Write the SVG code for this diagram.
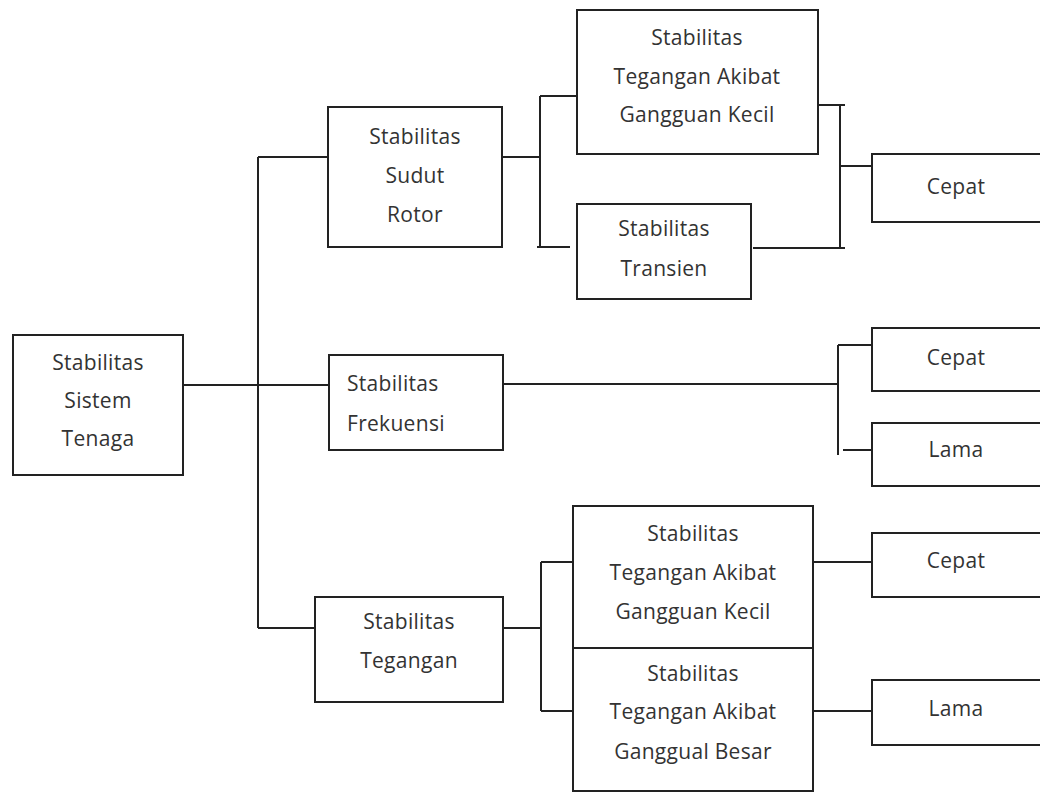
<svg xmlns="http://www.w3.org/2000/svg" width="1040" height="792" viewBox="0 0 1040 792">
<style>
rect{fill:#fff;stroke:#222;stroke-width:2}
.c line{stroke:#222;stroke-width:2}
text{font-family:"Open Sans","Noto Sans",sans-serif;font-size:21px;fill:#333;text-anchor:middle;letter-spacing:0.3px}
.l{text-anchor:start}
</style>
<rect x="0" y="0" width="1040" height="792" style="stroke:none"/>
<g class="c" id="connectors">
<line x1="183" y1="385" x2="330" y2="385"/>
<line x1="258" y1="157" x2="258" y2="628"/>
<line x1="258" y1="157" x2="328" y2="157"/>
<line x1="258" y1="628" x2="315" y2="628"/>
<line x1="502" y1="157" x2="540" y2="157"/>
<line x1="540" y1="96" x2="540" y2="248"/>
<line x1="540" y1="96" x2="577" y2="96"/>
<line x1="537" y1="247" x2="570" y2="247"/>
<line x1="818" y1="105" x2="845" y2="105"/>
<line x1="840" y1="105" x2="840" y2="248"/>
<line x1="753" y1="248" x2="845" y2="248"/>
<line x1="840" y1="166" x2="872" y2="166"/>
<line x1="503" y1="384" x2="838" y2="384"/>
<line x1="838" y1="345" x2="838" y2="455"/>
<line x1="838" y1="345" x2="872" y2="345"/>
<line x1="843" y1="450" x2="872" y2="450"/>
<line x1="503" y1="628" x2="541" y2="628"/>
<line x1="541" y1="562" x2="541" y2="711"/>
<line x1="541" y1="562" x2="573" y2="562"/>
<line x1="541" y1="711" x2="573" y2="711"/>
<line x1="813" y1="562" x2="872" y2="562"/>
<line x1="813" y1="711" x2="872" y2="711"/>
</g>
<g id="sistem"><rect x="13" y="335" width="170" height="140"/>
<text x="98" y="370">Stabilitas</text><text x="98" y="408">Sistem</text><text x="98" y="446">Tenaga</text></g>
<g id="sudut"><rect x="328" y="107" width="174" height="140"/>
<text x="415" y="144">Stabilitas</text><text x="415" y="183">Sudut</text><text x="415" y="222">Rotor</text></g>
<g id="kecil1"><rect x="577" y="10" width="241" height="144"/>
<text x="697" y="45">Stabilitas</text><text x="697" y="84">Tegangan Akibat</text><text x="697" y="122">Gangguan Kecil</text></g>
<g id="transien"><rect x="577" y="204" width="174" height="95"/>
<text x="664" y="236">Stabilitas</text><text x="664" y="276">Transien</text></g>
<g id="cepat1"><rect x="872" y="154" width="173" height="68"/>
<text x="956" y="194">Cepat</text></g>
<g id="frekuensi"><rect x="329" y="355" width="174" height="95"/>
<text class="l" x="347" y="391">Stabilitas</text><text class="l" x="347" y="431">Frekuensi</text></g>
<g id="cepat2"><rect x="872" y="328" width="173" height="63"/>
<text x="956" y="365">Cepat</text></g>
<g id="lama1"><rect x="872" y="423" width="173" height="63"/>
<text x="956" y="457">Lama</text></g>
<g id="tegangan"><rect x="315" y="597" width="188" height="105"/>
<text x="409" y="629">Stabilitas</text><text x="409" y="668">Tegangan</text></g>
<g id="kecil2"><rect x="573" y="506" width="240" height="142"/>
<text x="693" y="541">Stabilitas</text><text x="693" y="580">Tegangan Akibat</text><text x="693" y="619">Gangguan Kecil</text></g>
<g id="besar"><rect x="573" y="648" width="240" height="143"/>
<text x="693" y="681">Stabilitas</text><text x="693" y="719">Tegangan Akibat</text><text x="693" y="759">Ganggual Besar</text></g>
<g id="cepat3"><rect x="872" y="533" width="173" height="64"/>
<text x="956" y="568">Cepat</text></g>
<g id="lama2"><rect x="872" y="680" width="173" height="65"/>
<text x="956" y="716">Lama</text></g>
</svg>
